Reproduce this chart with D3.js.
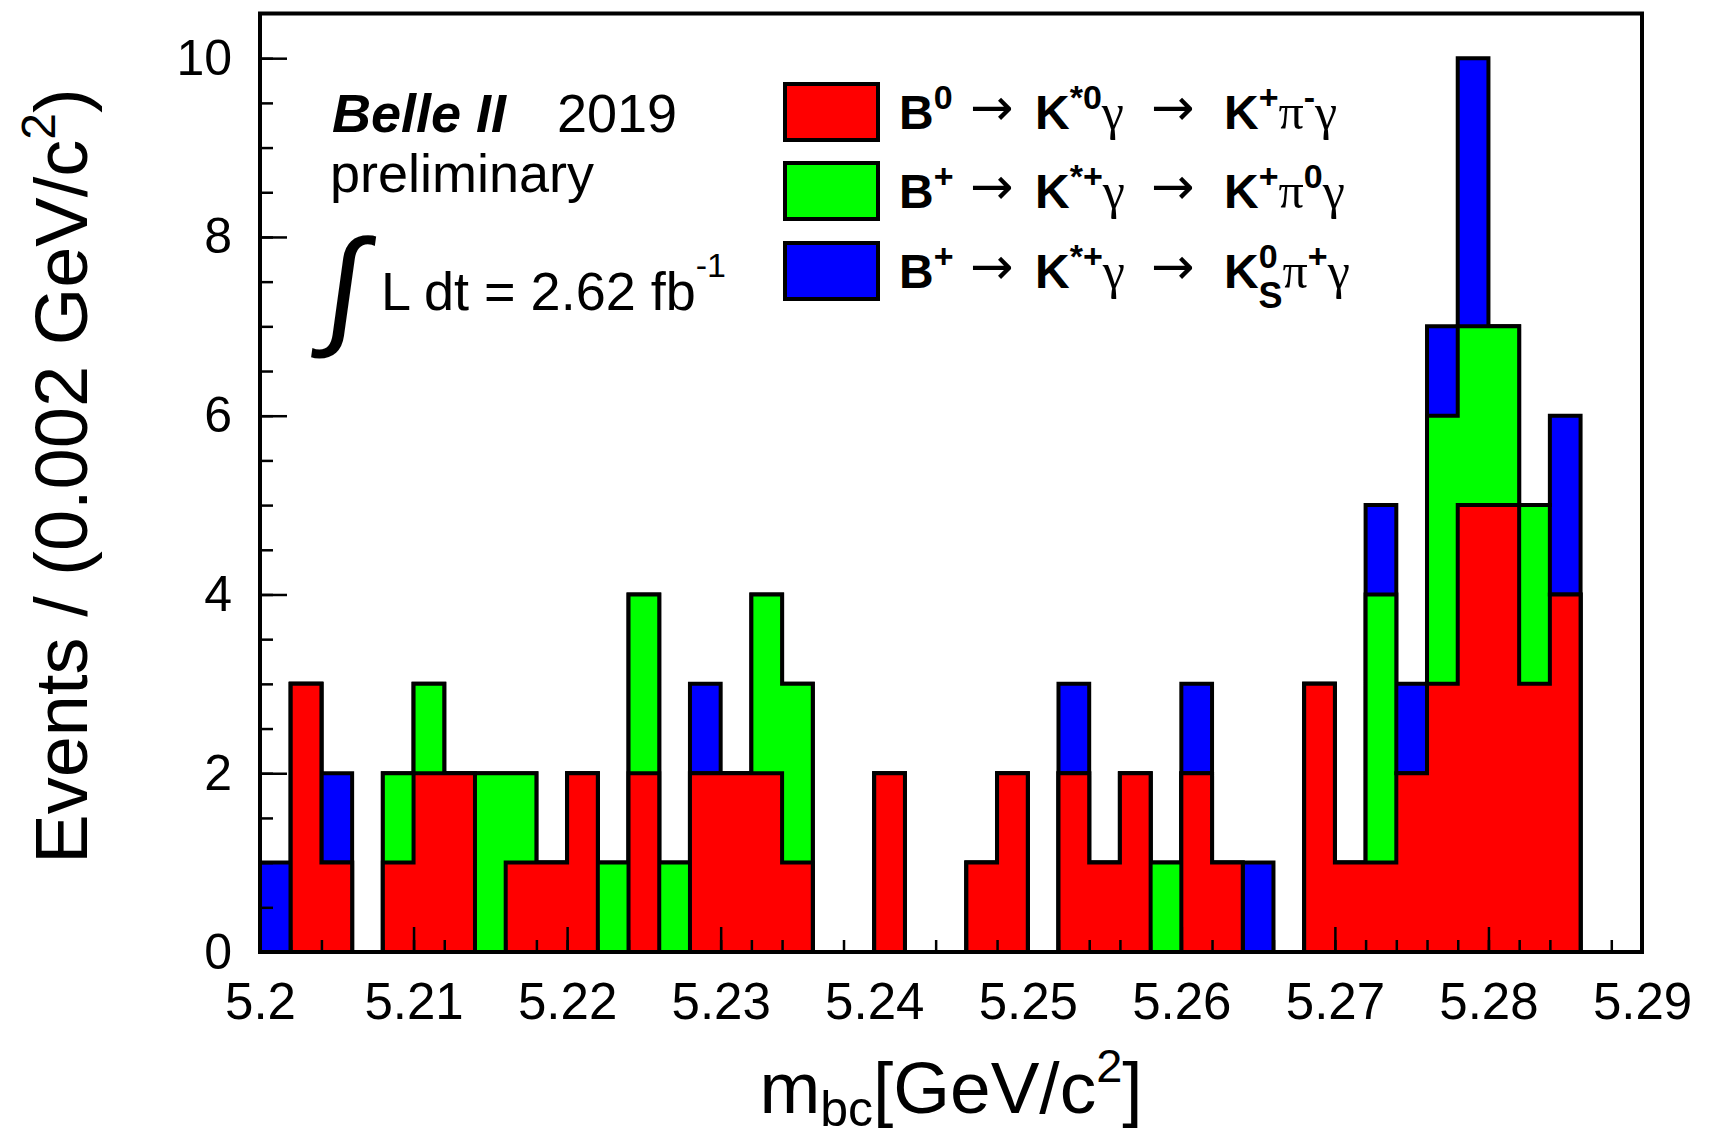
<!DOCTYPE html>
<html>
<head>
<meta charset="utf-8">
<script src="https://cdn.jsdelivr.net/npm/d3@7"></script>
<style>
  body { margin: 0; background: #fff; }
  text { font-family: "Liberation Sans", Arial, Helvetica, sans-serif; fill: #000; }
</style>
</head>
<body>
<div id="chart"></div>
<script>
// m_bc histogram, 45 bins of 0.002 GeV/c^2 from 5.2 to 5.29
var binStart = 5.2, binWidth = 0.002;
var redCounts   = [0,3,1,0,1,2,2,0,1,1,2,0,2,0,2,2,2,1,0,0,2,0,0,1,2,0,2,1,2,0,2,1,0,0,3,1,1,2,3,5,5,3,4,0,0];
var greenCounts = [0,0,0,0,1,1,0,2,1,0,0,1,2,1,0,0,2,2,0,0,0,0,0,0,0,0,0,0,0,1,0,0,0,0,0,0,3,0,3,2,2,2,0,0,0];
var blueCounts  = [1,0,1,0,0,0,0,0,0,0,0,0,0,0,1,0,0,0,0,0,0,0,0,0,0,0,1,0,0,0,1,0,1,0,0,0,1,1,1,3,0,0,2,0,0];
var xTickLabels = [5.2, 5.21, 5.22, 5.23, 5.24, 5.25, 5.26, 5.27, 5.28, 5.29];
var yTickLabels = [0, 2, 4, 6, 8, 10];
var seriesKeys = ["red", "green", "blue"];
var seriesColors = { red: "#ff0000", green: "#00ff00", blue: "#0000ff" };

var W = 1709, H = 1136;
var frame = { left: 260, right: 1642, top: 13.5, bottom: 952 };

var svg = d3.select("#chart").append("svg")
    .attr("width", W).attr("height", H);

var x = d3.scaleLinear().domain([5.2, 5.29]).range([frame.left, frame.right]);
var y = d3.scaleLinear().domain([0, 10.5]).range([frame.bottom, frame.top]);

var bins = redCounts.map(function(r, i) {
    return { x: binStart + i * binWidth, red: r, green: greenCounts[i], blue: blueCounts[i] };
});
var layers = d3.stack().keys(seriesKeys)(bins);

var area = d3.area()
    .x(function(d) { return x(d[0]); })
    .y0(y(0))
    .y1(function(d) { return y(d[1]); })
    .curve(d3.curveStepAfter);

// draw cumulative histograms back to front (total first, red last)
layers.slice().reverse().forEach(function(layer) {
    var pts = layer.map(function(d) { return [d.data.x, d[1]]; });
    pts.push([binStart + bins.length * binWidth, layer[layer.length - 1][1]]);
    svg.append("path")
        .attr("d", area(pts))
        .attr("fill", seriesColors[layer.key])
        .attr("stroke", "#000")
        .attr("stroke-width", 4)
        .attr("stroke-linejoin", "miter");
});

// axes, ticks pointing inside
function styleAxis(g) {
    g.select(".domain").remove();
    g.selectAll("line").attr("stroke", "#000").attr("stroke-width", 2.5);
}

svg.append("g")
    .attr("transform", "translate(0," + frame.bottom + ")")
    .call(d3.axisBottom(x).tickValues(d3.range(bins.length + 1).map(function(i) { return binStart + i * binWidth; }))
        .tickSize(-12).tickFormat(""))
    .call(styleAxis);

svg.append("g")
    .attr("transform", "translate(0," + frame.bottom + ")")
    .call(d3.axisBottom(x).tickValues(xTickLabels).tickSize(-25).tickPadding(31)
        .tickFormat(d3.format(".3~f")))
    .call(styleAxis)
    .selectAll("text").attr("font-size", 51).attr("font-family", null);

svg.append("g")
    .attr("transform", "translate(" + frame.left + ",0)")
    .call(d3.axisLeft(y).tickValues(d3.range(0, 10.01, 0.5)).tickSize(-13).tickFormat(""))
    .call(styleAxis);

svg.append("g")
    .attr("transform", "translate(" + frame.left + ",0)")
    .call(d3.axisLeft(y).tickValues(yTickLabels).tickSize(-27).tickPadding(28))
    .call(styleAxis)
    .selectAll("text").attr("font-size", 50).attr("font-family", null);

svg.append("rect")
    .attr("x", frame.left).attr("y", frame.top)
    .attr("width", frame.right - frame.left).attr("height", frame.bottom - frame.top)
    .attr("fill", "none").attr("stroke", "#000").attr("stroke-width", 4);

// axis titles
var yt = svg.append("text")
    .attr("transform", "translate(87,476) rotate(-90)")
    .attr("text-anchor", "middle")
    .attr("font-size", 74);
yt.append("tspan").text("Events / (0.002 GeV/c");
yt.append("tspan").attr("font-size", 48).attr("dy", -32).text("2");
yt.append("tspan").attr("dy", 32).text(")");

var xt = svg.append("text")
    .attr("x", 951).attr("y", 1113)
    .attr("text-anchor", "middle")
    .attr("font-size", 73);
xt.append("tspan").text("m");
xt.append("tspan").attr("font-size", 50).attr("dy", 13).text("bc");
xt.append("tspan").attr("dy", -13).text("[GeV/c");
xt.append("tspan").attr("font-size", 47).attr("dy", -31).text("2");
xt.append("tspan").attr("dy", 31).text("]");

// experiment label
var lab = svg.append("g").attr("font-size", 54);
lab.append("text").attr("x", 332).attr("y", 132)
    .attr("font-weight", "bold").attr("font-style", "italic").text("Belle II");
lab.append("text").attr("x", 557).attr("y", 132).text("2019");
lab.append("text").attr("x", 330).attr("y", 192).text("preliminary");
lab.append("text")
    .attr("transform", "translate(321,331) skewX(-8)")
    .attr("font-family", "Liberation Serif").attr("font-size", 130).text("\u222B");
var lum = lab.append("text").attr("x", 381).attr("y", 310);
lum.append("tspan").text("L dt = 2.62 fb");
lum.append("tspan").attr("font-size", 34).attr("dy", -33).text("-1");

// legend
var legendRows = [
    [["B","n"],["0","sup"],["\u2192","arr",1],["K","n",2],["*0","sup"],["\u03B3","gr"],["\u2192","arr",3],["K","n",4],["+","sup"],["\u03C0","gr"],["-","sup"],["\u03B3","gr"]],
    [["B","n"],["+","sup"],["\u2192","arr",1],["K","n",2],["*+","sup"],["\u03B3","gr"],["\u2192","arr",3],["K","n",4],["+","sup"],["\u03C0","gr"],["0","sup"],["\u03B3","gr"]],
    [["B","n"],["+","sup"],["\u2192","arr",1],["K","n",2],["*+","sup"],["\u03B3","gr"],["\u2192","arr",3],["K","n",4],["0","sup"],["S","sub"],["\u03C0","gr"],["+","sup"],["\u03B3","gr"]]
];
var legendCols = [899, 970, 1035, 1151, 1224];
var legendBaselines = [129, 208, 288];

legendRows.forEach(function(row, r) {
    var boxY = legendBaselines[r] - 45;
    svg.append("rect")
        .attr("x", 785).attr("y", boxY).attr("width", 93).attr("height", 56)
        .attr("fill", seriesColors[seriesKeys[r]])
        .attr("stroke", "#000").attr("stroke-width", 4);
    var t = svg.append("text")
        .attr("x", legendCols[0]).attr("y", legendBaselines[r])
        .attr("font-size", 48).attr("font-weight", "bold");
    var off = 0;
    row.forEach(function(seg) {
        var ts = t.append("tspan").text(seg[0]);
        var target = 0;
        if (seg[1] === "sup") { target = -20; ts.attr("font-size", 34); }
        if (seg[1] === "sub") {
            target = 20; ts.attr("font-size", 36).attr("dx", -19);
        }
        if (seg[1] === "gr") {
            ts.attr("font-family", "Liberation Serif").attr("font-weight", "normal").attr("font-size", 50);
        }
        if (seg[1] === "arr") {
            ts.attr("font-family", "DejaVu Sans").attr("font-weight", "normal").attr("font-size", 52);
            target = -4;
        }
        if (seg.length > 2) ts.attr("x", legendCols[seg[2]]);
        if (target !== off) { ts.attr("dy", target - off); off = target; }
    });
});
</script>
</body>
</html>
